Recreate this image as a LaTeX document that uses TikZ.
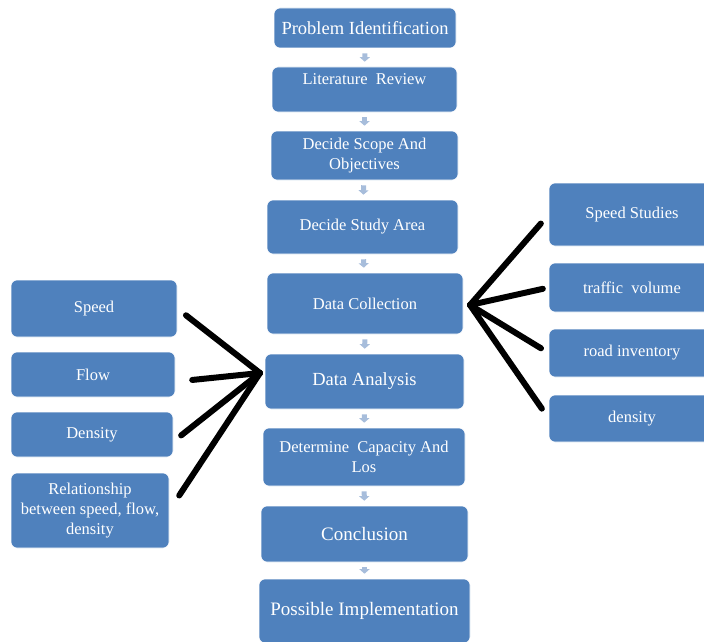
\documentclass[tikz,border=0pt]{standalone}
\usepackage{fontspec}
\setmainfont{Liberation Serif}
\usepackage{xcolor}
\usepackage{tikz}
\usetikzlibrary{arrows.meta}
\definecolor{boxblue}{RGB}{79,129,189}
\definecolor{tintblue}{RGB}{167,189,219}

\begin{document}
\begin{tikzpicture}[x=1pt, y=-1pt,
    box/.style={rectangle, rounded corners=6pt, fill=boxblue, draw=white, line width=0.6pt, text=white, align=center, inner sep=2pt, font=\fontsize{16.5}{20}\selectfont},
    bigtext/.style={font=\fontsize{19}{22}\selectfont},
    flowarrow/.style={-{Triangle[length=4.5pt, width=10pt]}, tintblue, line width=5pt, shorten <=5pt, shorten >=5pt},
    stroke/.style={black, line width=6pt, line cap=round, shorten <=11pt}
]
\useasboundingbox (0,0) rectangle (704,642);

% main chain
\node[box, minimum width=182pt, minimum height=40pt, font=\fontsize{18.5}{21}\selectfont] (problem) at (365,28) {Problem Identification};
\node[box, minimum width=185pt, minimum height=45pt] (review) at (364.5,89.5) {Literature~~Review\\~};
\node[box, minimum width=187pt, minimum height=49pt] (scope) at (364.5,155.5) {Decide Scope And\\Objectives};
\node[box, minimum width=191pt, minimum height=54pt] (area) at (362.5,227) {Decide Study Area};
\node[box, minimum width=196pt, minimum height=61pt] (collection) at (365,303.5) {Data Collection};
\node[box, minimum width=199pt, minimum height=55pt, font=\fontsize{18.5}{21}\selectfont] (analysis) at (364.5,381.5) {Data Analysis};
\node[box, minimum width=202pt, minimum height=58pt] (capacity) at (364,457) {Determine~~Capacity And\\Los};
\node[box, minimum width=207pt, minimum height=56pt, bigtext] (conclusion) at (364.5,534) {Conclusion};
\node[box, minimum width=211pt, minimum height=64pt, bigtext] (implementation) at (364.5,611) {Possible Implementation};

% analysis inputs
\node[box, minimum width=166pt, minimum height=57pt] (speed) at (94,308.5) {Speed};
\node[box, minimum width=164pt, minimum height=45pt] (flow) at (93,374.5) {Flow};
\node[box, minimum width=162pt, minimum height=45pt] (density) at (92,434.5) {Density};
\node[box, minimum width=158pt, minimum height=75pt] (relation) at (90,510.5) {Relationship\\between speed, flow,\\density};

% collection inputs
\node[box, minimum width=166pt, minimum height=63pt] (studies) at (632,214.5) {Speed Studies};
\node[box, minimum width=166pt, minimum height=49pt] (volume) at (632,287.5) {traffic~~volume};
\node[box, minimum width=166pt, minimum height=48pt] (inventory) at (632,353) {road inventory};
\node[box, minimum width=166pt, minimum height=47pt] (roaddensity) at (632,418.5) {density};

\coordinate (intoanalysis) at (260,373);
\coordinate (intocollection) at (470,305);

\draw[flowarrow] (problem) -- (review);
\draw[flowarrow] (review) -- (scope);
\draw[flowarrow] (scope) -- (area);
\draw[flowarrow] (area) -- (collection);
\draw[flowarrow] (collection) -- (analysis);
\draw[flowarrow] (analysis) -- (capacity);
\draw[flowarrow] (capacity) -- (conclusion);
\draw[flowarrow] (conclusion) -- (implementation);

\draw[stroke] (speed.east) -- (intoanalysis);
\draw[stroke, shorten <=17pt] (flow.-5) -- (intoanalysis);
\draw[stroke, shorten <=10pt] (density.-5) -- (intoanalysis);
\draw[stroke, shorten <=18pt] (relation.east) -- (intoanalysis);

\draw[stroke, shorten <=12pt] (studies.west) -- (intocollection);
\draw[stroke, shorten <=6pt] (volume.west) -- (intocollection);
\draw[stroke, shorten <=9pt] (inventory.west) -- (intocollection);
\draw[stroke, shorten <=12pt] (roaddensity.west) -- (intocollection);

\end{tikzpicture}
\end{document}
